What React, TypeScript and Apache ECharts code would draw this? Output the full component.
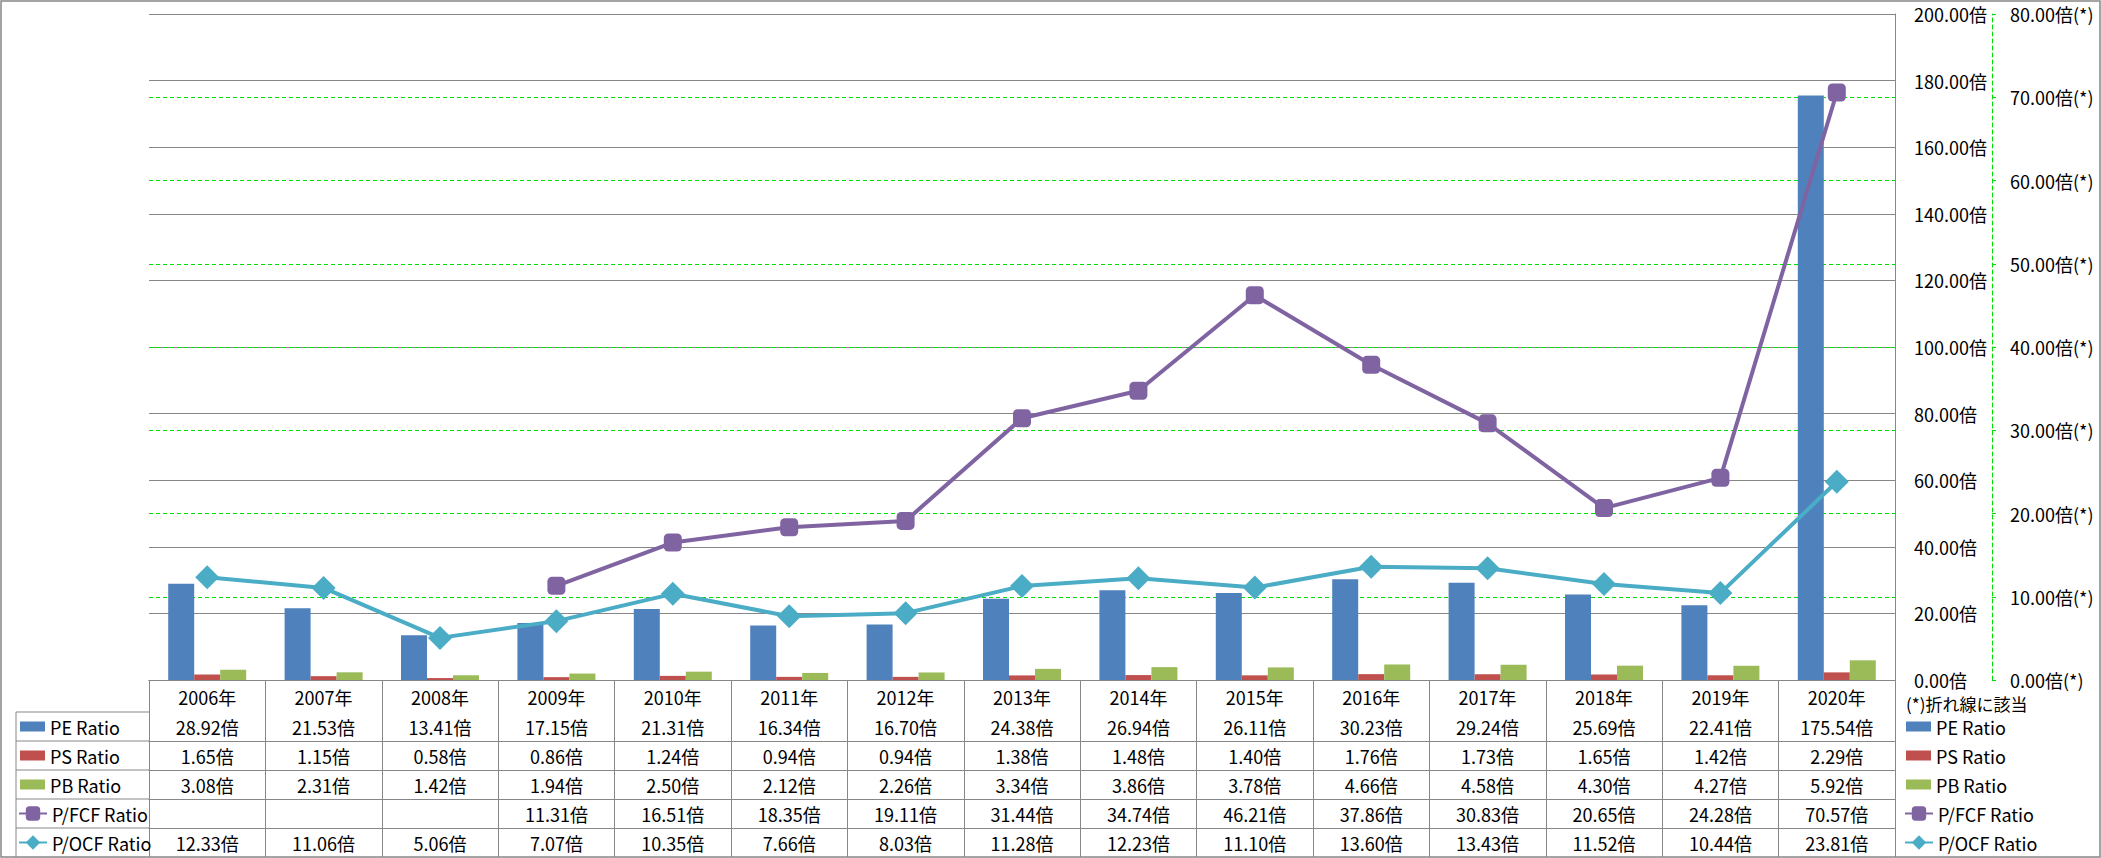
import React, { useEffect, useRef } from 'react';
import * as echarts from 'echarts';

const categories = ['2006年', '2007年', '2008年', '2009年', '2010年', '2011年', '2012年', '2013年', '2014年', '2015年', '2016年', '2017年', '2018年', '2019年', '2020年'];
const peRatio = [28.92, 21.53, 13.41, 17.15, 21.31, 16.34, 16.70, 24.38, 26.94, 26.11, 30.23, 29.24, 25.69, 22.41, 175.54];
const psRatio = [1.65, 1.15, 0.58, 0.86, 1.24, 0.94, 0.94, 1.38, 1.48, 1.40, 1.76, 1.73, 1.65, 1.42, 2.29];
const pbRatio = [3.08, 2.31, 1.42, 1.94, 2.50, 2.12, 2.26, 3.34, 3.86, 3.78, 4.66, 4.58, 4.30, 4.27, 5.92];
const pfcfRatio: (number | null)[] = [null, null, null, 11.31, 16.51, 18.35, 19.11, 31.44, 34.74, 46.21, 37.86, 30.83, 20.65, 24.28, 70.57];
const pocfRatio = [12.33, 11.06, 5.06, 7.07, 10.35, 7.66, 8.03, 11.28, 12.23, 11.10, 13.60, 13.43, 11.52, 10.44, 23.81];

const seriesNames = ['PE Ratio', 'PS Ratio', 'PB Ratio', 'P/FCF Ratio', 'P/OCF Ratio'];
const seriesColors = ['#4F81BD', '#C0504D', '#9BBB59', '#8064A2', '#4BACC6'];

const primaryAxis = { min: 0, max: 200, interval: 20, suffix: '倍' };
const secondaryAxis = { min: 0, max: 80, interval: 10, suffix: '倍(*)' };
const noteText = '(*)折れ線に該当';

// layout
const W = 2101;
const H = 858;
const GRID_LEFT = 149;
const GRID_TOP = 14;
const GRID_RIGHT_EDGE = 1895;
const GRID_BOTTOM_EDGE = 680;
const CAT_ROW_H = 32;
const ROW_H = 29;
const HEADER_LEFT = 16;
const FONT = "'Noto Sans CJK JP', 'Noto Sans', sans-serif";
const FS = 18;
const GRAY = '#878787';
const GREEN = '#00E000';

export default function App() {
  const ref = useRef<HTMLDivElement>(null);
  useEffect(() => {
    document.body.style.margin = '0';
    if (!ref.current) return;
    const chart = echarts.init(ref.current, undefined, { renderer: 'svg' });
    const rows = [peRatio, psRatio, pbRatio, pfcfRatio, pocfRatio];
    const fmt = (v: number | null) => (v == null ? '' : v.toFixed(2) + '倍');

    const rowAxes = rows.map((vals, i) => ({
      type: 'category',
      data: categories,
      gridIndex: 0,
      position: 'bottom',
      offset: CAT_ROW_H + ROW_H * i,
      axisLine: { show: true, lineStyle: { color: GRAY, width: 1 } },
      axisTick: { show: false },
      splitLine: { show: false },
      axisLabel: {
        interval: 0,
        margin: 0,
        lineHeight: ROW_H,
        fontSize: FS,
        color: '#000',
        fontFamily: FONT,
        formatter: (_v: string, idx: number) => fmt(vals[idx] as number | null),
      },
    }));

    const tableBottom = GRID_BOTTOM_EDGE + CAT_ROW_H + ROW_H * rows.length;
    const headerLines: any[] = [];
    for (let i = 0; i < rows.length; i++) {
      const y = GRID_BOTTOM_EDGE + CAT_ROW_H + ROW_H * i;
      headerLines.push({
        type: 'line',
        shape: { x1: HEADER_LEFT, y1: y, x2: GRID_LEFT, y2: y },
        style: { stroke: GRAY, lineWidth: 1 },
      });
    }
    headerLines.push({
      type: 'line',
      shape: { x1: HEADER_LEFT, y1: GRID_BOTTOM_EDGE + CAT_ROW_H, x2: HEADER_LEFT, y2: tableBottom },
      style: { stroke: GRAY, lineWidth: 1 },
    });

    const legendText = { fontSize: FS, color: '#000', fontFamily: FONT, lineHeight: ROW_H };
    const barLegendTop = GRID_BOTTOM_EDGE + CAT_ROW_H;
    const lineLegendTop = GRID_BOTTOM_EDGE + CAT_ROW_H + ROW_H * 3;
    const mkLegends = (barLeft: number, lineLeft: number) => [
      {
        data: seriesNames.slice(0, 3).map((n) => ({ name: n, icon: 'rect' })),
        orient: 'vertical', left: barLeft, top: barLegendTop, itemWidth: 25, itemHeight: 10, itemGap: 0,
        padding: 0, selectedMode: false, textStyle: legendText,
      },
      {
        data: seriesNames.slice(3),
        orient: 'vertical', left: lineLeft, top: lineLegendTop, itemWidth: 28, itemHeight: 18, itemGap: 0,
        padding: 0, selectedMode: false, textStyle: legendText,
      },
    ];

    const option: any = {
      animation: false,
      textStyle: { fontFamily: FONT },
      grid: {
        left: GRID_LEFT,
        top: GRID_TOP,
        width: GRID_RIGHT_EDGE - GRID_LEFT,
        height: GRID_BOTTOM_EDGE - GRID_TOP,
        containLabel: false,
      },
      legend: [...mkLegends(20, 18), ...mkLegends(1906, 1904)],
      xAxis: [
        {
          type: 'category',
          data: categories,
          position: 'bottom',
          boundaryGap: true,
          axisLine: { show: true, lineStyle: { color: GRAY, width: 1 } },
          axisTick: {
            show: true, interval: 0, alignWithLabel: false,
            length: tableBottom - GRID_BOTTOM_EDGE,
            lineStyle: { color: GRAY, width: 1 },
          },
          splitLine: { show: false },
          axisLabel: {
            interval: 0, margin: 2, lineHeight: ROW_H, fontSize: FS, color: '#000', fontFamily: FONT,
          },
        },
        ...rowAxes,
      ],
      yAxis: [
        {
          type: 'value',
          position: 'right',
          min: primaryAxis.min,
          max: primaryAxis.max,
          interval: primaryAxis.interval,
          axisLine: { show: true, lineStyle: { color: GRAY, width: 1 } },
          axisTick: { show: false },
          splitLine: { show: true, lineStyle: { color: GRAY, width: 1 } },
          axisLabel: {
            margin: 19, fontSize: FS, color: '#000', fontFamily: FONT,
            formatter: (v: number) => v.toFixed(2) + primaryAxis.suffix,
          },
        },
        {
          type: 'value',
          position: 'right',
          offset: 97,
          min: secondaryAxis.min,
          max: secondaryAxis.max,
          interval: secondaryAxis.interval,
          axisLine: { show: true, lineStyle: { color: GREEN, width: 1, type: [4, 3] } },
          axisTick: { show: true, length: 4, lineStyle: { color: GREEN, width: 1 } },
          splitLine: {
            show: true, showMinLine: false, showMaxLine: false,
            lineStyle: { color: GREEN, width: 1, type: [4, 3] },
          },
          axisLabel: {
            margin: 18, fontSize: FS, color: '#000', fontFamily: FONT,
            formatter: (v: number) => v.toFixed(2) + secondaryAxis.suffix,
          },
        },
      ],
      series: [
        { name: seriesNames[0], type: 'bar', data: peRatio, barWidth: 26, barGap: '0%', itemStyle: { color: seriesColors[0] } },
        { name: seriesNames[1], type: 'bar', data: psRatio, barWidth: 26, barGap: '0%', itemStyle: { color: seriesColors[1] } },
        { name: seriesNames[2], type: 'bar', data: pbRatio, barWidth: 26, barGap: '0%', itemStyle: { color: seriesColors[2] } },
        {
          name: seriesNames[3], type: 'line', yAxisIndex: 1, data: pfcfRatio, connectNulls: false,
          symbol: 'roundRect', symbolSize: 18,
          lineStyle: { color: seriesColors[3], width: 4 },
          itemStyle: { color: seriesColors[3] },
        },
        {
          name: seriesNames[4], type: 'line', yAxisIndex: 1, data: pocfRatio,
          symbol: 'diamond', symbolSize: 24,
          lineStyle: { color: seriesColors[4], width: 4 },
          itemStyle: { color: seriesColors[4] },
        },
      ],
      graphic: [
        {
          type: 'rect',
          shape: { x: 1, y: 1, width: W - 2, height: H - 2 },
          style: { fill: 'none', stroke: GRAY, lineWidth: 1.5 },
          silent: true,
        },
        ...headerLines,
        {
          type: 'text',
          left: 1906,
          top: GRID_BOTTOM_EDGE + 15,
          style: { text: noteText, fontSize: FS - 1, fill: '#000', fontFamily: FONT },
        },
      ],
    };
    chart.setOption(option);
    return () => chart.dispose();
  }, []);
  return <div ref={ref} style={{ width: W, height: H }} />;
}
